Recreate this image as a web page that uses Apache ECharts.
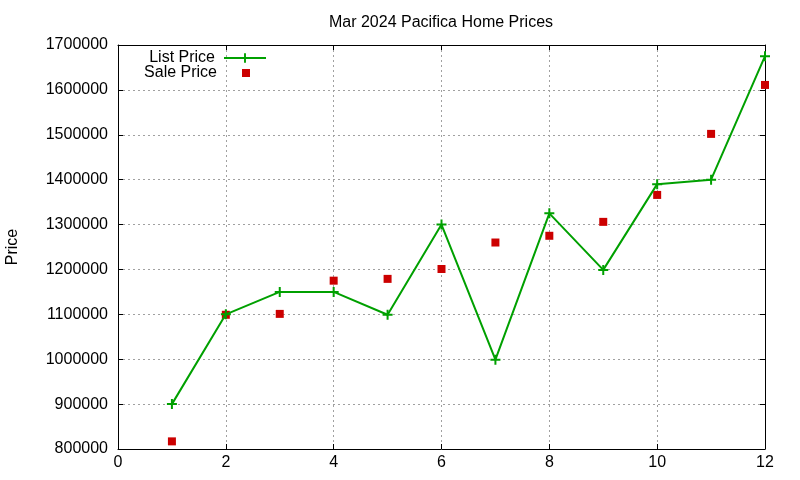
<!DOCTYPE html>
<html>
<head>
<meta charset="utf-8">
<script src="https://cdn.jsdelivr.net/npm/echarts@6/dist/echarts.min.js"></script>
<style>html,body{margin:0;padding:0;background:#fff}#c{width:800px;height:480px}</style>
</head>
<body>
<div id="c"></div>
<script>
const months = [1,2,3,4,5,6,7,8,9,10,11,12];
const listPrice = [900000,1100000,1150000,1150000,1099000,1300000,999000,1325000,1199000,1390000,1400000,1675000];
const salePrice = [817000,1099000,1101000,1175000,1179000,1201000,1260000,1275000,1306000,1366000,1502000,1611000];
const yTicks = [800000,900000,1000000,1100000,1200000,1300000,1400000,1500000,1600000,1700000];
const xTicks = [0,2,4,6,8,10,12];

const plus = 'path://M4,0 H6 V4 H10 V6 H6 V10 H4 V6 H0 V4 H4 Z';
const font = 'Liberation Sans, Arial, sans-serif';
const fs = 16;
const chart = echarts.init(document.getElementById('c'), null, {renderer:'canvas'});
const gridLine = {show:true, lineStyle:{color:'#a0a0a0', type:[2,3], width:1}};
const axisLine = {show:true, onZero:false, lineStyle:{color:'#000', width:1}};
chart.setOption({
  animation:false,
  backgroundColor:'#fff',
  title:{text:'Mar 2024 Pacifica Home Prices', left:436, textAlign:'center', top:10,
    textStyle:{fontFamily:font, fontSize:fs, fontWeight:'normal', color:'#000'}},
  grid:{left:118, right:35, top:45, bottom:31, containLabel:false, outerBoundsMode:'none'},
  legend:[
    {data:['List Price'], orient:'vertical', right:528, top:45, itemWidth:42, itemHeight:12, align:'right',
     textStyle:{fontFamily:font, fontSize:fs, color:'#000', padding:[0,4,0,0]}},
    {data:['Sale Price'], orient:'vertical', right:545, top:60, itemWidth:8, itemHeight:8, align:'right',
     textStyle:{fontFamily:font, fontSize:fs, color:'#000', padding:[0,20,0,0]}}
  ],
  xAxis:[
    {type:'value', min:0, max:12, interval:2, position:'bottom',
     axisLine:axisLine, axisTick:{show:true, inside:true, length:5, lineStyle:{color:'#000'}},
     axisLabel:{fontFamily:font, fontSize:fs, color:'#000', margin:6,
       formatter:v=>xTicks.includes(v)?String(v):''},
     splitLine:gridLine},
    {type:'value', min:0, max:12, interval:2, position:'top',
     axisLine:axisLine, axisTick:{show:true, inside:true, length:5, lineStyle:{color:'#000'}},
     axisLabel:{show:false}, splitLine:{show:false}}
  ],
  yAxis:[
    {type:'value', min:800000, max:1700000, interval:100000, position:'left',
     name:'Price', nameLocation:'middle', nameGap:97, nameRotate:90,
     nameTextStyle:{fontFamily:font, fontSize:fs, color:'#000'},
     axisLine:axisLine, axisTick:{show:true, inside:true, length:5, lineStyle:{color:'#000'}},
     axisLabel:{fontFamily:font, fontSize:fs, color:'#000', margin:10,
       formatter:v=>yTicks.includes(v)?String(v):''},
     splitLine:gridLine},
    {type:'value', min:800000, max:1700000, interval:100000, position:'right',
     axisLine:axisLine, axisTick:{show:true, inside:true, length:5, lineStyle:{color:'#000'}},
     axisLabel:{show:false}, splitLine:{show:false}}
  ],
  series:[
    {name:'List Price', type:'line', data:months.map((m,i)=>[m,listPrice[i]]),
     symbol:plus, symbolSize:10, showAllSymbol:true,
     lineStyle:{color:'#00a000', width:2}, itemStyle:{color:'#00a000'}, z:3},
    {name:'Sale Price', type:'scatter', data:months.map((m,i)=>[m,salePrice[i]]),
     symbol:'rect', symbolSize:8, itemStyle:{color:'#cc0000', opacity:1}, z:2}
  ]
});
</script>
</body>
</html>
